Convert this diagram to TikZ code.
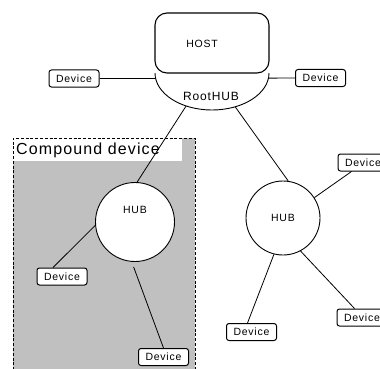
\documentclass[tikz,border=0pt]{standalone}
\usepackage{fontspec}
\newfontfamily\lblfont[LetterSpace=7]{Liberation Sans}
\usetikzlibrary{calc}
\definecolor{cmpgray}{HTML}{C0C0C0}
\tikzset{
  device/.style={draw, line width=1pt, rounded corners=2.5pt, fill=white,
    minimum width=50pt, minimum height=17pt, inner sep=0pt,
    font=\lblfont\fontsize{10.5}{11}\selectfont},
  hub/.style={draw, line width=0.9pt, circle, fill=white, inner sep=0pt},
  wire/.style={line width=0.8pt},
  lbl/.style={inner sep=0pt, font=\lblfont\fontsize{10.5}{11}\selectfont}
}
\begin{document}
\begin{tikzpicture}[x=1pt, y=-1pt]
  \useasboundingbox (0,0) rectangle (380,369);
  \clip (0,0) rectangle (380,369);

  % compound device frame
  \fill[cmpgray] (13,138) rectangle (195,375);
  \fill[white] (13,138) rectangle (182,161);
  \draw[line width=0.9pt, dash pattern=on 3pt off 1.8pt] (13,375) -- (13,138) -- (195,138) -- (195,375);
  \node[anchor=west, inner sep=0pt, font=\lblfont\fontsize{16}{17}\selectfont] (cmp) at (16,150) {Compound device};

  % host with its root hub
  \draw[line width=1.1pt, rounded corners=12pt] (155,73) -- (155,13) -- (269,13) -- (269,73) -- cycle;
  \node[lbl] (host) at (202,44) {HOST};
  \coordinate (rh) at (212,73);
  \draw[line width=0.9pt] (155,73) arc[start angle=180, end angle=0, x radius=57, y radius=37];
  \node[lbl, font=\lblfont\fontsize{12}{13}\selectfont] (roothub) at (211,96) {RootHUB};
  \coordinate (rhL) at ($(rh)+({57*cos(171.5)},{37*sin(171.5)})$);
  \coordinate (rhR) at ($(rh)+({57*cos(8)},{37*sin(8)})$);
  \coordinate (rhA) at ($(rh)+({57*cos(117)},{37*sin(117)})$);
  \coordinate (rhB) at ($(rh)+({57*cos(66)},{37*sin(66)})$);

  % devices on the root hub
  \node[device] (devL) at (74,78.5) {Device};
  \node[device] (devR) at (320.5,78) {Device};
  \draw[wire] (devL.east) -- (rhL);
  \draw[wire] (rhR) -- (devR.west);

  % hubs
  \node[hub, minimum size=79pt] (hubL) at (135,222) {};
  \node[lbl] (hubLt) at ([yshift=12pt]hubL.center) {HUB};
  \node[hub, minimum size=74pt] (hubR) at (283,218) {};
  \node[lbl] (hubRt) at (hubR.center) {HUB};
  \draw[wire] (rhA) -- (hubL.87);
  \draw[wire] (rhB) -- (hubR.82);

  % devices inside the compound device
  \node[device] (devA) at (62,276.5) {Device};
  \node[device] (devB) at (163.5,357) {Device};
  \draw[wire] (hubL.185) -- ([xshift=-9pt]devA.north);
  \draw[wire] ([yshift=-5pt]hubL.268) -- (devB.north);

  % devices on the second hub
  \node[device] (devC) at (363,162.5) {Device};
  \node[device] (devD) at (362,317.5) {Device};
  \node[device] (devE) at (251.5,332) {Device};
  \draw[wire] (hubR.33) -- ([xshift=14pt]devC.south west);
  \draw[wire] (hubR.298) -- ([xshift=18pt]devD.north west);
  \draw[wire] (hubR.256) -- ([xshift=-4pt]devE.north);
\end{tikzpicture}
\end{document}
